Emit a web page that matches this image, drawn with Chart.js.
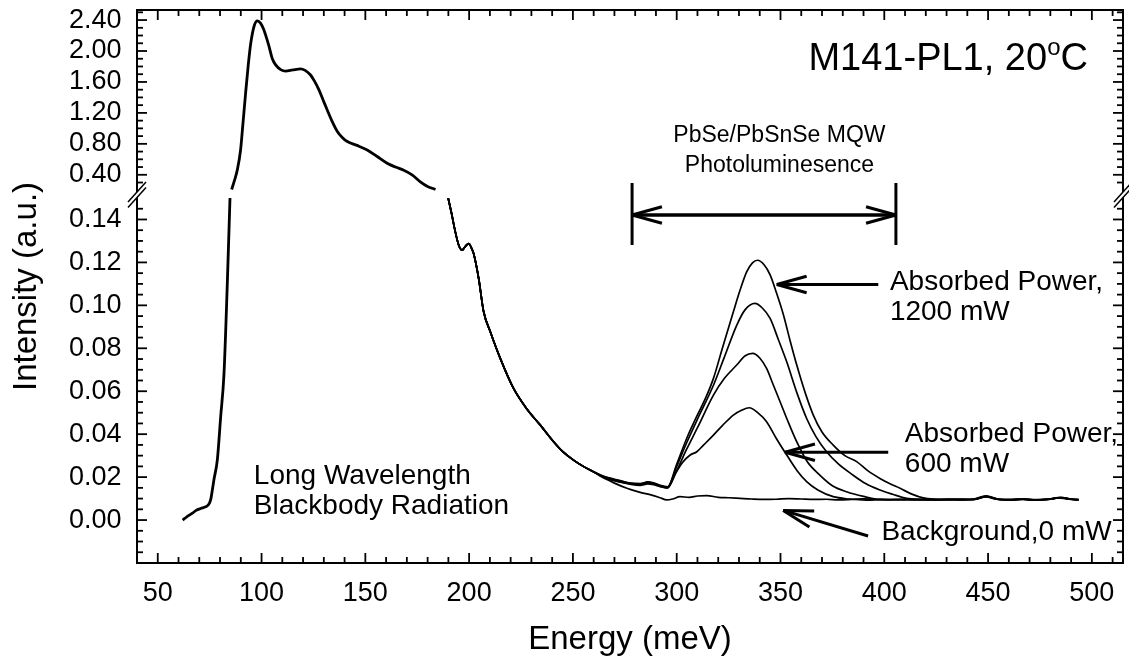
<!DOCTYPE html>
<html><head><meta charset="utf-8">
<script src="https://cdn.jsdelivr.net/npm/chart.js@4/dist/chart.umd.min.js"></script>
<style>html,body{margin:0;padding:0;background:#fff;overflow:hidden}</style>
</head><body>
<div style="width:1129px;height:661px;position:relative"><canvas id="c"></canvas></div>
<script>
// ---------------- data ----------------
const xTickLabels = ['50','100','150','200','250','300','350','400','450','500'];
const yLowTickLabels = ['0.00','0.02','0.04','0.06','0.08','0.10','0.12','0.14'];
const yUpTickLabels = ['0.40','0.80','1.20','1.60','2.00','2.40'];

// blackbody, upper (broken) section
const upperE = [85.6, 87.0, 88.3, 89.9, 91.0, 92.3, 93.6, 94.8, 96.5, 98.0, 99.5, 101.0, 102.5, 103.6, 105.2, 106.8, 109.2, 111.6, 115.0, 118.8, 121.0, 123.6, 125.5, 127.6, 129.6, 131.6, 134.0, 136.5, 139.0, 141.3, 146.0, 150.9, 155.5, 160.5, 164.5, 168.5, 172.5, 176.5, 180.0, 183.8];
const upperI = [0.21, 0.33, 0.46, 0.72, 1.05, 1.45, 1.82, 2.10, 2.33, 2.39, 2.36, 2.28, 2.16, 2.06, 1.90, 1.82, 1.76, 1.74, 1.755, 1.77, 1.75, 1.69, 1.61, 1.50, 1.37, 1.24, 1.09, 0.96, 0.88, 0.83, 0.78, 0.72, 0.64, 0.55, 0.50, 0.46, 0.40, 0.31, 0.25, 0.21];

// blackbody, lower section, low-energy edge
const lowLeftE = [62.0, 64.0, 66.7, 68.5, 70.7, 73.1, 74.5, 75.5, 76.3, 77.1, 78.7, 80.3, 81.9, 83.5, 84.8];
const lowLeftI = [0.000, 0.0015, 0.0032, 0.0045, 0.0054, 0.0062, 0.0072, 0.0095, 0.014, 0.019, 0.028, 0.048, 0.068, 0.110, 0.150];

// blackbody decline shared by all five spectra
const bbDeclineE = [189.9, 191.5, 193.4, 195.0, 196.6, 198.2, 199.8, 201.0, 202.2, 204.6, 207.0, 210.2, 215.0, 221.4, 228.0, 234.3, 240.7, 245.0, 250.3, 255.0, 259.9];
const bbDeclineI = [0.150, 0.143, 0.134, 0.128, 0.1257, 0.1275, 0.1288, 0.127, 0.124, 0.1125, 0.097, 0.0877, 0.0753, 0.0613, 0.0515, 0.0442, 0.0365, 0.032, 0.0279, 0.025, 0.0225];

// background, 0 mW
const bgE = [264, 270, 276, 282, 288, 292, 295.2, 298, 301.6, 306, 310, 314.5, 320, 325, 330.5, 336, 342, 348, 354, 360, 366, 372, 378, 384, 390, 396, 402, 408, 414, 420, 426, 432, 438, 444, 449, 454, 460, 466, 472, 478, 484, 488, 493.6];
const bgI = [0.0200, 0.0172, 0.0148, 0.0130, 0.0116, 0.0104, 0.0094, 0.0098, 0.0109, 0.0106, 0.0112, 0.0114, 0.0106, 0.0104, 0.0101, 0.0098, 0.0096, 0.0097, 0.0100, 0.0098, 0.0096, 0.0097, 0.0094, 0.0096, 0.0099, 0.0097, 0.0095, 0.0097, 0.0094, 0.0096, 0.0095, 0.0097, 0.0094, 0.0097, 0.0108, 0.0097, 0.0094, 0.0097, 0.0093, 0.0096, 0.0103, 0.0098, 0.0095];

// absorbed power 1200 mW (highest PL peak)
const p1200E = [264, 268, 272.8, 278, 282.4, 286, 288.8, 292, 295.6, 300, 304.8, 310, 314, 317.7, 322, 327.3, 330.5, 333.7, 336.5, 339, 342, 345, 348, 351.4, 354.5, 357.8, 362, 365.8, 370, 375.4, 381, 386.7, 392, 397.9, 403, 407.6, 413, 418.8, 425, 431, 437, 443, 449, 455, 461, 467, 473, 479, 485, 490, 493.6];
const p1200I = [0.0205, 0.0195, 0.0184, 0.0170, 0.0168, 0.0178, 0.0174, 0.0162, 0.0155, 0.026, 0.038, 0.049, 0.057, 0.066, 0.080, 0.097, 0.107, 0.1156, 0.1198, 0.121, 0.119, 0.1142, 0.106, 0.0956, 0.084, 0.0723, 0.059, 0.0489, 0.041, 0.0349, 0.030, 0.0272, 0.023, 0.0194, 0.0168, 0.0148, 0.0122, 0.0103, 0.0097, 0.0095, 0.0098, 0.0096, 0.0111, 0.0098, 0.0095, 0.0097, 0.0094, 0.0097, 0.0106, 0.0097, 0.0095];

// intermediate power (second peak)
const pMid1E = [264, 268, 272.8, 278, 282.4, 286, 288.8, 292, 295.6, 300, 304.8, 310, 317.7, 323, 328.9, 333, 337.7, 341, 345, 349, 353, 358, 362.6, 367, 372.2, 378, 385, 391, 397.9, 404, 410.7, 418, 425, 431, 437, 443, 449, 455, 461, 467, 473, 479, 485, 490, 493.6];
const pMid1I = [0.0207, 0.0193, 0.0182, 0.0172, 0.0170, 0.0176, 0.0171, 0.0160, 0.0152, 0.025, 0.036, 0.047, 0.0628, 0.076, 0.0907, 0.098, 0.1009, 0.099, 0.0939, 0.084, 0.0737, 0.059, 0.0473, 0.039, 0.0318, 0.026, 0.0209, 0.017, 0.014, 0.012, 0.0101, 0.0096, 0.0094, 0.0097, 0.0095, 0.0098, 0.0113, 0.0096, 0.0094, 0.0098, 0.0095, 0.0096, 0.0105, 0.0098, 0.0094];

// intermediate power (third peak)
const pMid2E = [264, 268, 272.8, 278, 282.4, 286, 288.8, 292, 295.6, 300, 304.8, 310, 317.7, 323, 328.9, 333, 336.6, 340, 343.3, 346.5, 349.8, 354, 357.8, 363, 369, 375, 381.8, 390, 397.9, 405, 412, 419, 425, 431, 437, 443, 449, 455, 461, 467, 473, 479, 485, 490, 493.6];
const pMid2I = [0.0203, 0.0190, 0.0178, 0.0168, 0.0165, 0.0172, 0.0168, 0.0158, 0.0150, 0.023, 0.033, 0.043, 0.0582, 0.066, 0.0722, 0.0765, 0.0776, 0.0755, 0.0706, 0.063, 0.0551, 0.045, 0.0365, 0.027, 0.0209, 0.016, 0.0132, 0.011, 0.0096, 0.0095, 0.0097, 0.0094, 0.0096, 0.0094, 0.0097, 0.0095, 0.0110, 0.0097, 0.0095, 0.0096, 0.0093, 0.0097, 0.0104, 0.0096, 0.0095];

// absorbed power 600 mW (lowest PL peak)
const p600E = [264, 268, 272.8, 278, 282.4, 286, 288.8, 292, 295.6, 299, 303, 306.5, 309.7, 313, 317.7, 322, 327.3, 331, 335, 339, 343.3, 348, 353, 358, 362.6, 368, 375.4, 383, 391.4, 400, 408, 416, 424, 431, 437, 443, 449, 455, 461, 467, 473, 479, 485, 490, 493.6];
const p600I = [0.0204, 0.0188, 0.0176, 0.0166, 0.0162, 0.0168, 0.0165, 0.0156, 0.0150, 0.021, 0.027, 0.0303, 0.0318, 0.035, 0.0396, 0.044, 0.0489, 0.051, 0.0523, 0.050, 0.0458, 0.038, 0.0303, 0.023, 0.0179, 0.014, 0.0109, 0.0098, 0.0093, 0.0095, 0.0094, 0.0096, 0.0094, 0.0096, 0.0094, 0.0097, 0.0109, 0.0096, 0.0095, 0.0097, 0.0094, 0.0096, 0.0104, 0.0097, 0.0094];

// ---------------- chart ----------------
const FAM = "'Liberation Sans', Arial, Helvetica, sans-serif";
Chart.defaults.font.family = FAM;
Chart.defaults.color = '#000';

const pts = (E, I) => E.map((e, i) => ({x: e, y: I[i]}));
const withDecline = (E, I) => pts(bbDeclineE.concat(E), bbDeclineI.concat(I));
const ds = (label, data, axis, w) => ({label, data, yAxisID: axis, borderColor: '#000', backgroundColor: '#000',
  borderWidth: w, pointRadius: 0, fill: false, cubicInterpolationMode: 'monotone'});

const datasets = [
  ds('Blackbody (upper)', pts(upperE, upperI), 'yUp', 2.8),
  ds('Blackbody (low energy)', pts(lowLeftE, lowLeftI), 'yLow', 2.8),
  ds('Background, 0 mW', withDecline(bgE, bgI), 'yLow', 1.7),
  ds('Absorbed Power, 1200 mW', withDecline(p1200E, p1200I), 'yLow', 1.7),
  ds('Intermediate power A', withDecline(pMid1E, pMid1I), 'yLow', 1.7),
  ds('Intermediate power B', withDecline(pMid2E, pMid2I), 'yLow', 1.7),
  ds('Absorbed Power, 600 mW', withDecline(p600E, p600I), 'yLow', 1.7)
];

const TICK_FONT = {size: 27, family: FAM};
const setTicks = labels => s => { s.ticks = labels.map(l => ({value: parseFloat(l)})); };
const labelOf = labels => (v, i) => labels[i];
const fixY = s => { s.width = 137; s.paddingTop = 0; s.paddingBottom = 0; };

// annotation layout (x in meV, y in lower-axis units unless noted)
const ANN = {
  font: 28,
  dbl: {e1: 278.5, e2: 405.6, y: 0.1421, barTop: 0.157, barBot: 0.1281},
  pbse: {e: 349.5, y1: 0.1762, y2: 0.1622, size: 23},
  a1200: {tail: [397.1, 0.1097], tip: [348.2, 0.1097]},
  t1200: {e: 402.7, y1: 0.1071, y2: 0.0932},
  a600: {tail: [401.9, 0.0316], tip: [352.2, 0.0316]},
  t600: {e: 409.9, y1: 0.0365, y2: 0.0226},
  aBg: {tail: [392.2, -0.0074], tip: [351.3, 0.0045]},
  tBg: {e: 398.6, y: -0.0093},
  tLong: {e: 96.3, y1: 0.0168, y2: 0.0028},
  title: {e: 498.1, yUp: 1.754, size: 38}
};

const framePlugin = {
  id: 'frameTicks',
  afterDatasetsDraw(chart) {
    const {ctx, chartArea: a, scales} = chart;
    const {x, yLow, yUp} = scales;
    ctx.save();
    ctx.strokeStyle = '#000';
    ctx.lineWidth = 2;
    ctx.strokeRect(a.left, a.top, a.right - a.left, a.bottom - a.top);
    const seg = (x1, y1, x2, y2) => { ctx.beginPath(); ctx.moveTo(x1, y1); ctx.lineTo(x2, y2); ctx.stroke(); };
    const MAJ = 10, MIN = 6;
    ctx.lineWidth = 1.8;
    const xMaj = xTickLabels.map(parseFloat);
    for (let i = 4; i <= 51; i++) {
      const v = i * 10, px = x.getPixelForValue(v);
      const L = xMaj.some(m => Math.abs(m - v) < 1e-9) ? MAJ : MIN;
      seg(px, a.bottom, px, a.bottom - L);
      seg(px, a.top, px, a.top + L);
    }
    const lowMaj = yLowTickLabels.map(parseFloat);
    for (let i = -3; i <= 29; i++) {
      const v = i * 0.005, py = yLow.getPixelForValue(v);
      const L = lowMaj.some(m => Math.abs(m - v) < 1e-9) ? MAJ : MIN;
      seg(a.left, py, a.left + L, py);
      seg(a.right, py, a.right - L, py);
    }
    const upMaj = yUpTickLabels.map(parseFloat);
    for (let i = 3; i <= 25; i++) {
      const v = i * 0.1, py = yUp.getPixelForValue(v);
      const L = upMaj.some(m => Math.abs(m - v) < 1e-6) ? MAJ : MIN;
      seg(a.left, py, a.left + L, py);
      seg(a.right, py, a.right - L, py);
    }
    // axis breaks
    const yb = yLow.top;
    [a.left, a.right].forEach(bx => {
      const c1 = yb - 6, c2 = yb - 0.5;
      ctx.fillStyle = '#fff';
      ctx.beginPath();
      ctx.moveTo(bx - 9, c1 + 10); ctx.lineTo(bx + 9, c1 - 10);
      ctx.lineTo(bx + 9, c2 - 10); ctx.lineTo(bx - 9, c2 + 10);
      ctx.closePath(); ctx.fill();
      ctx.lineWidth = 1.5;
      seg(bx - 9, c1 + 10, bx + 9, c1 - 10);
      seg(bx - 9, c2 + 10, bx + 9, c2 - 10);
    });
    ctx.restore();
  },
  afterDraw(chart) {
    const {ctx, chartArea: a, scales: {x, yLow, yUp}} = chart;
    const X = v => x.getPixelForValue(v), Y = v => yLow.getPixelForValue(v);
    ctx.save();
    ctx.fillStyle = '#000'; ctx.strokeStyle = '#000';
    const txt = (s, px, py, size, align) => {
      ctx.font = size + 'px ' + FAM; ctx.textAlign = align || 'left'; ctx.textBaseline = 'alphabetic';
      ctx.fillText(s, px, py);
    };
    const seg = (x1, y1, x2, y2) => { ctx.beginPath(); ctx.moveTo(x1, y1); ctx.lineTo(x2, y2); ctx.stroke(); };
    const arrow = (tx, ty, hx, hy) => {
      seg(tx, ty, hx, hy);
      const th = Math.atan2(ty - hy, tx - hx), H = 31, s = 0.27;
      seg(hx, hy, hx + H * Math.cos(th + s), hy + H * Math.sin(th + s));
      seg(hx, hy, hx + H * Math.cos(th - s), hy + H * Math.sin(th - s));
    };
    ctx.lineWidth = 3; ctx.lineCap = 'butt';
    // double arrow with end bars
    const d = ANN.dbl;
    arrow(X(d.e2), Y(d.y), X(d.e1), Y(d.y));
    arrow(X(d.e1), Y(d.y), X(d.e2), Y(d.y));
    seg(X(d.e1), Y(d.barTop), X(d.e1), Y(d.barBot));
    seg(X(d.e2), Y(d.barTop), X(d.e2), Y(d.barBot));
    arrow(X(ANN.a1200.tail[0]), Y(ANN.a1200.tail[1]), X(ANN.a1200.tip[0]), Y(ANN.a1200.tip[1]));
    arrow(X(ANN.a600.tail[0]), Y(ANN.a600.tail[1]), X(ANN.a600.tip[0]), Y(ANN.a600.tip[1]));
    arrow(X(ANN.aBg.tail[0]), Y(ANN.aBg.tail[1]), X(ANN.aBg.tip[0]), Y(ANN.aBg.tip[1]));
    // texts
    const F = ANN.font;
    txt('PbSe/PbSnSe MQW', X(ANN.pbse.e), Y(ANN.pbse.y1), ANN.pbse.size, 'center');
    txt('Photoluminesence', X(ANN.pbse.e), Y(ANN.pbse.y2), ANN.pbse.size, 'center');
    txt('Absorbed Power,', X(ANN.t1200.e), Y(ANN.t1200.y1), F);
    txt('1200 mW', X(ANN.t1200.e), Y(ANN.t1200.y2), F);
    txt('Absorbed Power,', X(ANN.t600.e), Y(ANN.t600.y1), F);
    txt('600 mW', X(ANN.t600.e), Y(ANN.t600.y2), F);
    txt('Background,0 mW', X(ANN.tBg.e), Y(ANN.tBg.y), F);
    txt('Long Wavelength', X(ANN.tLong.e), Y(ANN.tLong.y1), F);
    txt('Blackbody Radiation', X(ANN.tLong.e), Y(ANN.tLong.y2), F);
    // title with superscript degree "o"
    const T = ANN.title, tr = X(T.e), tb = yUp.getPixelForValue(T.yUp);
    ctx.font = T.size + 'px ' + FAM;
    const w1 = ctx.measureText('M141-PL1, 20').width, wC = ctx.measureText('C').width;
    ctx.font = Math.round(T.size * 0.62) + 'px ' + FAM;
    const wo = ctx.measureText('o').width;
    const left = tr - (w1 + wo + wC);
    txt('M141-PL1, 20', left, tb, T.size);
    txt('o', left + w1, tb - 15, Math.round(T.size * 0.62));
    txt('C', left + w1 + wo, tb, T.size);
    // y-axis title centred on the full (broken) axis
    ctx.save();
    ctx.translate(27, (a.top + a.bottom) / 2);
    ctx.rotate(-Math.PI / 2);
    ctx.font = '33px ' + FAM; ctx.textAlign = 'center'; ctx.textBaseline = 'middle';
    ctx.fillText('Intensity (a.u.)', 0, 0);
    ctx.restore();
    ctx.restore();
  }
};

new Chart(document.getElementById('c'), {
  type: 'line',
  data: {datasets},
  options: {
    responsive: true, maintainAspectRatio: false, animation: false,
    layout: {padding: {left: 0, top: 10, right: 6, bottom: 0}},
    plugins: {legend: {display: false}, tooltip: {enabled: false}},
    scales: {
      x: {
        type: 'linear', min: 40, max: 515,
        afterBuildTicks: setTicks(xTickLabels),
        afterFit: s => { s.height = 98; s.paddingLeft = 0; s.paddingRight = 0; },
        grid: {display: false, drawTicks: false}, border: {display: false},
        ticks: {font: TICK_FONT, color: '#000', padding: 14, maxRotation: 0, autoSkip: false, callback: labelOf(xTickLabels)},
        title: {display: true, text: 'Energy (meV)', font: {size: 33, family: FAM}, color: '#000', padding: {top: 0, bottom: 1}}
      },
      yLow: {
        type: 'linear', position: 'left', stack: 'yb', stackWeight: 365, min: -0.02, max: 0.15,
        afterBuildTicks: setTicks(yLowTickLabels), afterFit: fixY,
        grid: {display: false, drawTicks: false}, border: {display: false},
        ticks: {font: TICK_FONT, color: '#000', padding: 15.5, autoSkip: false, callback: labelOf(yLowTickLabels)}
      },
      yUp: {
        type: 'linear', position: 'left', stack: 'yb', stackWeight: 188, min: 0.10, max: 2.53,
        afterBuildTicks: setTicks(yUpTickLabels), afterFit: fixY,
        grid: {display: false, drawTicks: false}, border: {display: false},
        ticks: {font: TICK_FONT, color: '#000', padding: 15.5, autoSkip: false, callback: labelOf(yUpTickLabels)}
      }
    }
  },
  plugins: [framePlugin]
});
</script>
</body></html>
